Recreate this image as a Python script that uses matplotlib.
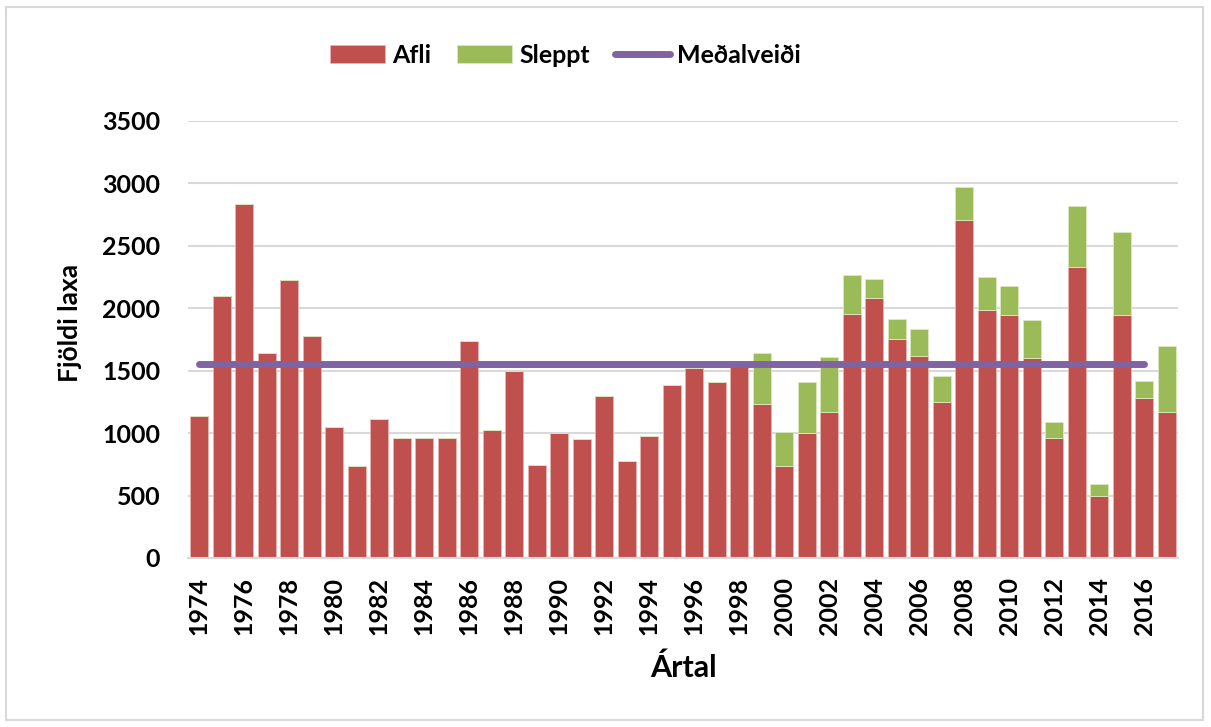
import matplotlib.pyplot as plt
from matplotlib.patches import Rectangle
import numpy as np

# Data
years = list(range(1974, 2018))
afli = [1137, 2097, 2833, 1641, 2222, 1774, 1046, 736, 1113, 960, 960, 958,
        1734, 1025, 1494, 747, 1003, 952, 1294, 776, 979, 1385, 1518, 1409,
        1545, 1235, 739, 998, 1169, 1956, 2084, 1756, 1619, 1251, 2708, 1988,
        1945, 1601, 963, 2326, 496, 1945, 1283, 1171]
sleppt = [0] * 25 + [403, 272, 408, 437, 306, 146, 157, 211, 203, 262, 261,
                     235, 304, 128, 491, 94, 664, 131, 529]
medalveidi = 1550
line_years = years[:-1]

plt.rcParams['font.family'] = ['Lato', 'DejaVu Sans']
plt.rcParams['font.weight'] = 'bold'

fig = plt.figure(figsize=(12.11, 7.27), dpi=100)
ax = fig.add_axes([0.1552, 0.2325, 0.8175, 0.6015])

b1 = ax.bar(years, afli, width=0.8, color='#C0504D', edgecolor='#e8b5b3',
            linewidth=0.6, label='Afli', zorder=2)
b2 = ax.bar(years, sleppt, bottom=afli, width=0.8, color='#9BBB59',
            edgecolor='#dcebc0', linewidth=0.6, label='Sleppt', zorder=2)
l1, = ax.plot(line_years, [medalveidi] * len(line_years), color='#8064A2',
              linewidth=5, solid_capstyle='round', label='Meðalveiði', zorder=3)

ax.set_xlim(1973.5, 2017.5)
ax.set_ylim(0, 3500)
ax.set_yticks(range(0, 3501, 500))
ax.set_xticks(years[::2])
ax.set_xticklabels([str(y) for y in years[::2]], rotation=90)
ax.tick_params(axis='both', length=0, labelsize=18)
ax.tick_params(axis='y', pad=20)
ax.tick_params(axis='x', pad=14)
for lbl in ax.get_xticklabels() + ax.get_yticklabels():
    lbl.set_fontweight('bold')

ax.grid(axis='y', color='#d9d9d9', linewidth=1.5, zorder=0)
ax.set_axisbelow(True)
for s in ['top', 'right', 'left']:
    ax.spines[s].set_visible(False)
ax.spines['bottom'].set_color('#d9d9d9')
ax.spines['bottom'].set_linewidth(1.5)

fig.text(70 / 1211, 1 - 323 / 727, 'Fjöldi laxa', fontsize=19,
         fontweight='bold', rotation=90, ha='center', va='center')
fig.text(683 / 1211, 1 - 668 / 727, 'Ártal', fontsize=22, fontweight='bold',
         ha='center', va='center')

leg = fig.legend([b1, b2, l1], ['Afli', 'Sleppt', 'Meðalveiði'],
                 loc='center', bbox_to_anchor=(0.467, 0.924), ncol=3,
                 frameon=False, fontsize=18, handlelength=2.2,
                 handleheight=0.7, columnspacing=1.0, handletextpad=0.3)
for t in leg.get_texts():
    t.set_fontweight('bold')

fig.patches.append(Rectangle((6 / 1211, 7 / 727), 1197 / 1211, 713 / 727,
                             transform=fig.transFigure, fill=False,
                             edgecolor='#d9d9d9', linewidth=1.5))

fig.savefig('out.png', dpi=100)
